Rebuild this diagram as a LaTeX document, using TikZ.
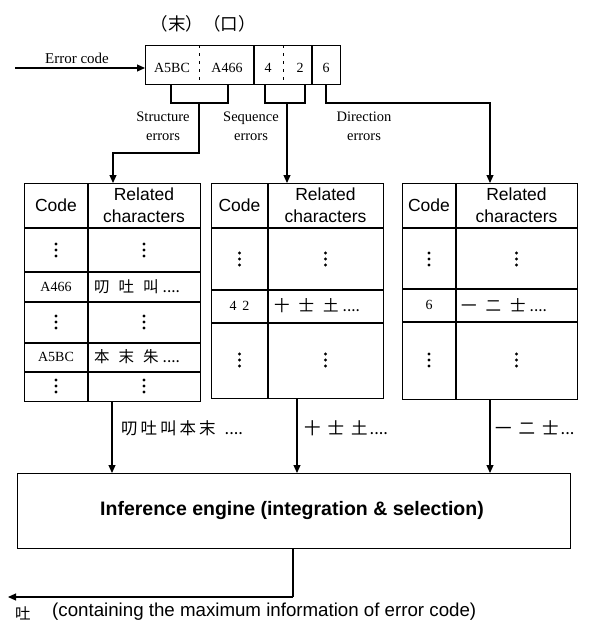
\documentclass[tikz,border=0pt]{standalone}
\usepackage{fontspec}
\setmainfont{Liberation Serif}
\setsansfont{Liberation Sans}
\newfontfamily\cjk{Noto Sans CJK TC}
\usetikzlibrary{arrows.meta}
\tikzset{
  ln/.style={line width=1.1pt},
  dln/.style={line width=0.8pt,dash pattern=on 3pt off 5pt},
  tbl/.style={draw,line width=1.4pt,anchor=north west,inner sep=0pt},
  arr/.style={ln,-{Triangle[length=8pt,width=7pt]}},
  lbl/.style={font=\fontsize{14.5}{19}\selectfont,align=center,inner sep=0pt},
  hdr/.style={font=\sffamily\fontsize{17.5}{22}\selectfont,align=center,inner sep=0pt},
  cod/.style={font=\fontsize{14}{16}\selectfont,inner sep=0pt},
  chs/.style={font=\cjk\fontsize{15.5}{17}\selectfont,inner sep=0pt},
  och/.style={font=\cjk\fontsize{16.5}{18}\selectfont,inner sep=0pt,anchor=west},
  vdots/.pic={\fill (0,-6) circle (1.7) (0,0) circle (1.7) (0,6) circle (1.7);}
}
\newcommand\gp{\hspace{9pt}}
\newcommand\gq{\hspace{4pt}}
\begin{document}
\begin{tikzpicture}[x=1pt,y=-1pt]
\useasboundingbox (0,0) rectangle (590,630);
% top labels
\node[font=\cjk\fontsize{17.5}{19}\selectfont,inner sep=0pt] (top) at (203,24) {（末）（口）};
% error code input
\node[lbl,font=\fontsize{15}{18}\selectfont] (ec) at (77,58) {Error code};
\coordinate (ecin) at (15,68);
% code box
\node[draw,ln,anchor=north west,minimum width=195,minimum height=39,inner sep=0pt] (cb) at (145,45) {};
\draw[dln] (199,45) -- (199,84);
\draw[ln] (254,45) -- (254,84);
\draw[dln] (283,45) -- (283,84);
\draw[ln] (312,45) -- (312,84);
\node[cod] (c1) at (172,68) {A5BC};
\node[cod] (c2) at (227,68) {A466};
\node[cod] (c3) at (268,68) {4};
\node[cod] (c4) at (300,68) {2};
\node[cod] (c5) at (326,68) {6};
\draw[arr] (ecin) -- (ecin -| cb.west);
% brackets
\draw[ln] (171,84) -- (171,103) -- (228,103) -- (228,84);
\draw[ln] (265,84) -- (265,103) -- (305,103) -- (305,84);
\coordinate (sb) at (199,103);
\coordinate (qb) at (287,103);
\coordinate (db) at (326,84);
\node[lbl] (l1) at (163,126) {Structure\\errors};
\node[lbl] (l2) at (251,126) {Sequence\\errors};
\node[lbl] (l3) at (364,126) {Direction\\errors};
% tables
\node[tbl,minimum width=176,minimum height=218] (t1) at (24,183) {};
\node[tbl,minimum width=172,minimum height=215] (t2) at (211,183) {};
\node[tbl,minimum width=175,minimum height=216] (t3) at (402,183) {};
% table 1 grid
\draw[ln] (88,183) -- (88,401);
\draw[ln] (24,228) -- (200,228) (24,272) -- (200,272) (24,302) -- (200,302) (24,343) -- (200,343) (24,372) -- (200,372);
\node[hdr] (h1a) at (56,205) {Code};
\node[hdr] (h1b) at (144,205) {Related\\characters};
\pic at (56,250) {vdots};
\pic at (144,250) {vdots};
\node[cod] (r1a) at (56,287) {A466};
\node[chs,anchor=west] (r1b) at (94,287) {叨\gp 吐\gp 叫\gq ....};
\pic at (56,322) {vdots};
\pic at (144,322) {vdots};
\node[cod] (r1c) at (56,357) {A5BC};
\node[chs,anchor=west] (r1d) at (94,357) {本\gp 末\gp 朱\gq ....};
\pic at (56,386) {vdots};
\pic at (144,386) {vdots};
% table 2 grid
\draw[ln] (268,183) -- (268,398);
\draw[ln] (211,228) -- (383,228) (211,290) -- (383,290) (211,323) -- (383,323);
\node[hdr] (h2a) at (239.5,205) {Code};
\node[hdr] (h2b) at (325.5,205) {Related\\characters};
\pic at (239.5,259) {vdots};
\pic at (325.5,259) {vdots};
\node[cod] (r2a) at (239.5,306) {4\ \,2};
\node[chs,anchor=west] (r2b) at (274,306) {十\gp 士\gp 土\gq ....};
\pic at (239.5,360) {vdots};
\pic at (325.5,360) {vdots};
% table 3 grid
\draw[ln] (456,183) -- (456,399);
\draw[ln] (402,228) -- (577,228) (402,289) -- (577,289) (402,322) -- (577,322);
\node[hdr] (h3a) at (429,205) {Code};
\node[hdr] (h3b) at (516.5,205) {Related\\characters};
\pic at (429,259) {vdots};
\pic at (516.5,259) {vdots};
\node[cod] (r3a) at (429,305) {6};
\node[chs,anchor=west] (r3b) at (461,305) {一\gp 二\gp 士\gq ....};
\pic at (429,360) {vdots};
\pic at (516.5,360) {vdots};
% connectors from code box to tables
\draw[arr] (sb) -- (199,153) -- (113,153) -- (113,183);
\draw[arr] (qb) -- (287,183);
\draw[arr] (db) -- (326,103) -- (490,103) -- (490,183);
% engine
\node[draw,ln,anchor=north west,minimum width=553,minimum height=75,inner sep=0pt] (eng) at (17,473) {};
\node[font=\sffamily\bfseries\fontsize{19.5}{22}\selectfont,inner sep=0pt] (engt) at (292,510) {Inference engine (integration \& selection)};
\draw[arr] (112,401) -- (112,473);
\draw[arr] (297,398) -- (297,473);
\draw[arr] (490,399) -- (490,473);
\node[och] (o1) at (121,428) {叨\hspace{3pt}吐\hspace{3pt}叫\hspace{3pt}本\hspace{3pt}末\hspace{9pt}....};
\node[och] (o2) at (304,428) {十\hspace{7pt}士\hspace{7pt}土\hspace{2pt}....};
\node[och] (o3) at (495,428) {一\hspace{7pt}二\hspace{7pt}士\hspace{2pt}...};
% output
\coordinate (outc) at (293,597);
\coordinate (oute) at (8,597);
\draw[ln] (293,548) -- (outc);
\draw[arr] (outc) -- (oute);
\node[chs] (res) at (23,613) {吐};
\node[font=\sffamily\fontsize{18.7}{20}\selectfont,anchor=west,inner sep=0pt] (rest) at (52,612) {(containing the maximum information of error code)};
\end{tikzpicture}
\end{document}
